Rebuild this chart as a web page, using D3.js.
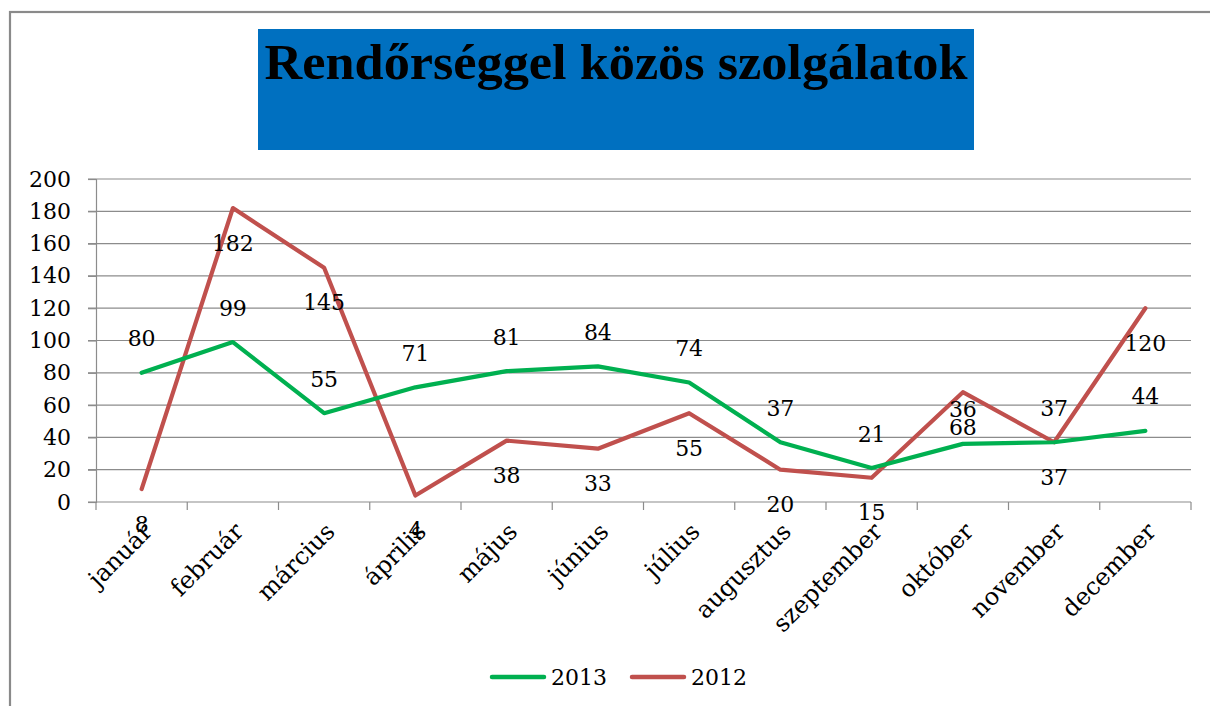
<!DOCTYPE html>
<html>
<head>
<meta charset="utf-8">
<script src="https://cdn.jsdelivr.net/npm/d3@7/dist/d3.min.js"></script>
<style>
  html, body { margin: 0; padding: 0; background: #fff; }
  svg { display: block; }
</style>
</head>
<body>
<svg id="chart" width="1210" height="706"></svg>
<script>
const months = ["január","február","március","április","május","június","július","augusztus","szeptember","október","november","december"];
const values2013 = [80, 99, 55, 71, 81, 84, 74, 37, 21, 36, 37, 44];
const values2012 = [8, 182, 145, 4, 38, 33, 55, 20, 15, 68, 37, 120];
const yTicks = [0, 20, 40, 60, 80, 100, 120, 140, 160, 180, 200];
const seriesNames = ["2013", "2012"];
const titleText = "Rendőrséggel közös szolgálatok";

const svg = d3.select("#chart");
const numFont = "'DejaVu Serif', serif";
const gridColor = "#8c8c8c";
const green = "#00B050", red = "#C0504D";

// outer frame
svg.append("rect").attr("x", 10).attr("y", 12).attr("width", 1220).attr("height", 720)
  .attr("fill", "none").attr("stroke", "#8a8a8a").attr("stroke-width", 2.2);

// title box
svg.append("rect").attr("x", 258).attr("y", 29).attr("width", 716).attr("height", 121).attr("fill", "#0070C0");
svg.append("text").attr("x", 616).attr("y", 79).attr("text-anchor", "middle")
  .attr("font-family", "'Liberation Serif', serif").attr("font-weight", "bold").attr("font-size", 50)
  .attr("textLength", 703).attr("lengthAdjust", "spacingAndGlyphs")
  .attr("fill", "#000").text(titleText);

const x = d3.scaleBand().domain(months).range([96, 1191]).paddingInner(0).paddingOuter(0);
const y = d3.scaleLinear().domain([0, 200]).range([502, 179]);

// gridlines
svg.append("g").selectAll("line").data(yTicks.filter(d => d > 0)).join("line")
  .attr("x1", 88).attr("x2", 1191).attr("y1", d => y(d)).attr("y2", d => y(d))
  .attr("stroke", gridColor).attr("stroke-width", 1.2);

// y axis
const yAxis = svg.append("g").attr("transform", "translate(96,0)")
  .call(d3.axisLeft(y).tickValues(yTicks).tickSize(8).tickPadding(17).tickFormat(d3.format("d")));
yAxis.select(".domain").attr("stroke", gridColor).attr("stroke-width", 1.2);
yAxis.selectAll(".tick line").attr("stroke", gridColor).attr("stroke-width", 1.2);
yAxis.selectAll("text").attr("font-family", numFont).attr("font-size", 22).attr("fill", "#000");

// x axis line and ticks at band boundaries
const bounds = months.map(m => x(m)).concat([x.range()[1]]);
svg.append("line").attr("x1", 88).attr("x2", 1191).attr("y1", y(0)).attr("y2", y(0))
  .attr("stroke", gridColor).attr("stroke-width", 1.2);
svg.append("g").selectAll("line").data(bounds).join("line")
  .attr("x1", d => d).attr("x2", d => d).attr("y1", y(0)).attr("y2", y(0) + 8)
  .attr("stroke", gridColor).attr("stroke-width", 1.2);

// x labels
const cx = m => x(m) + x.bandwidth() / 2;
svg.append("g").selectAll("text").data(months).join("text")
  .attr("transform", d => `translate(${cx(d) + 12},${533}) rotate(-45)`)
  .attr("text-anchor", "end")
  .attr("font-family", numFont).attr("font-size", 24).attr("fill", "#000")
  .text(d => d);

// lines
const line = d3.line().x((d, i) => cx(months[i])).y(d => y(d));
svg.append("path").datum(values2012).attr("d", line).attr("fill", "none")
  .attr("stroke", red).attr("stroke-width", 4.2).attr("stroke-linejoin", "round").attr("stroke-linecap", "round");
svg.append("path").datum(values2013).attr("d", line).attr("fill", "none")
  .attr("stroke", green).attr("stroke-width", 4.2).attr("stroke-linejoin", "round").attr("stroke-linecap", "round");

// data labels
svg.append("g").selectAll("text").data(values2013).join("text")
  .attr("x", (d, i) => cx(months[i])).attr("y", d => y(d) - 34)
  .attr("dominant-baseline", "central").attr("text-anchor", "middle")
  .attr("font-family", numFont).attr("font-size", 22).attr("fill", "#000").text(d => d);
svg.append("g").selectAll("text").data(values2012).join("text")
  .attr("x", (d, i) => cx(months[i])).attr("y", d => y(d) + 35)
  .attr("dominant-baseline", "central").attr("text-anchor", "middle")
  .attr("font-family", numFont).attr("font-size", 22).attr("fill", "#000").text(d => d);

// legend
const legend = [
  { name: seriesNames[0], color: green, x: 490 },
  { name: seriesNames[1], color: red, x: 630 }
];
const lg = svg.append("g");
legend.forEach(l => {
  lg.append("line").attr("x1", l.x + 2).attr("x2", l.x + 54).attr("y1", 677).attr("y2", 677)
    .attr("stroke", l.color).attr("stroke-width", 4.5).attr("stroke-linecap", "round");
  lg.append("text").attr("x", l.x + 61).attr("y", 685)
    .attr("font-family", numFont).attr("font-size", 22).attr("fill", "#000").text(l.name);
});
</script>
</body>
</html>
